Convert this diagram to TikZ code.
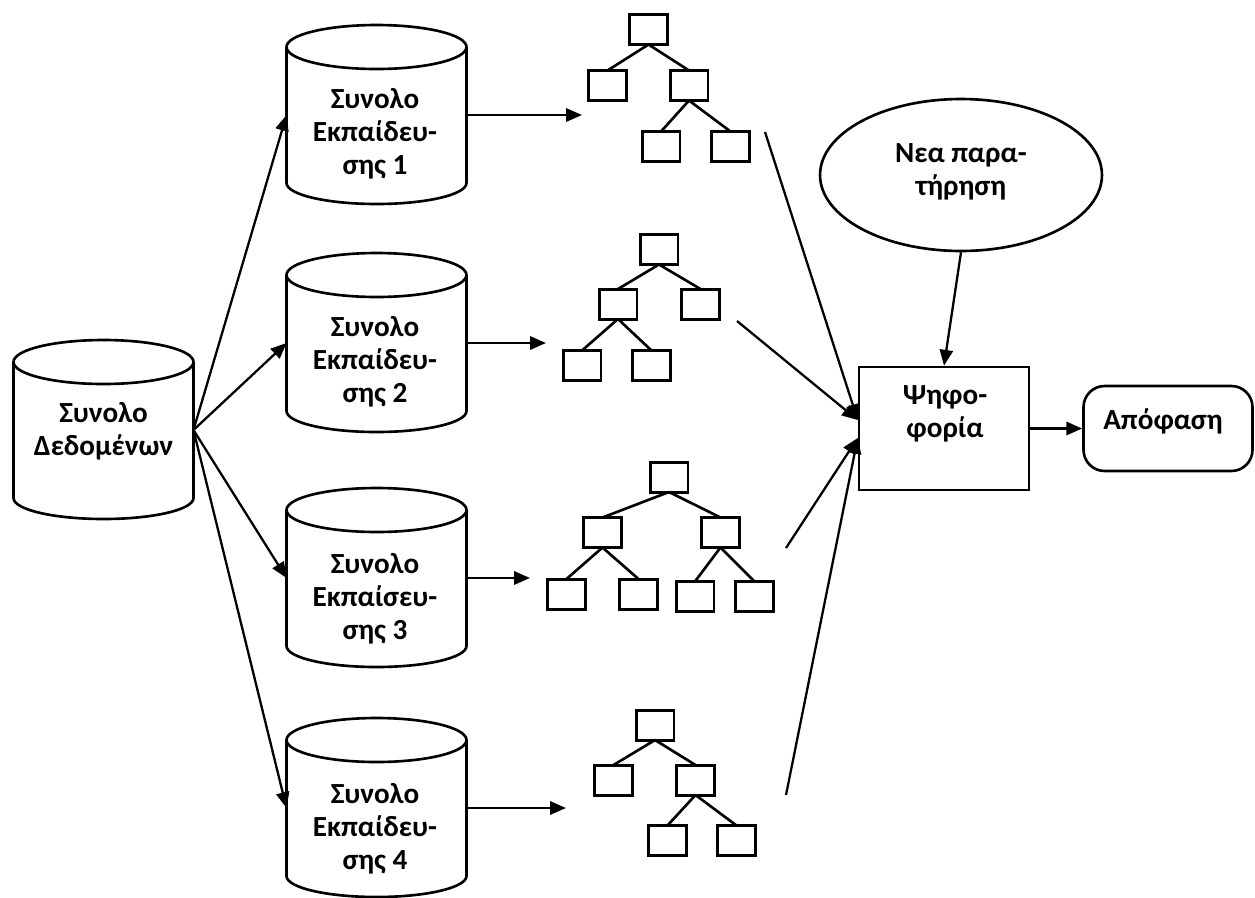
\documentclass[tikz,border=0pt]{standalone}
\usepackage{fontspec}
\setmainfont{Carlito}
\usetikzlibrary{arrows.meta,shapes.geometric}
\tikzset{
  cylline/.style={line width=1.5pt},
  cylbody/.style={minimum width=3.6cm, minimum height=2.72cm, inner sep=0pt, outer sep=0pt},
  lbl/.style={font=\fontsize{16.6}{18.8}\selectfont\bfseries, align=center, inner sep=0pt},
  tbox/.style={draw, line width=1.7pt, minimum width=0.76cm, minimum height=0.6cm, inner sep=0pt, outer sep=0pt},
  tedge/.style={line width=1.5pt},
  arr/.style={line width=1.3pt, -{Triangle[length=9pt,width=7.5pt]}},
}
\newcommand\mycyl[3]{%
  \draw[cylline] (#1-90,-#2-22) -- (#1-90,-#2-158) arc[start angle=180,end angle=360,x radius=90,y radius=21] -- (#1+90,-#2-22);
  \draw[cylline] (#1,-#2-22) ellipse[x radius=90,y radius=22];
  \node[cylbody] (#3) at (#1,-#2-90) {};
}
\begin{document}
\begin{tikzpicture}[x=0.02cm,y=0.02cm]
\useasboundingbox (0,0) rectangle (1255,-897);
% cylinders
\mycyl{103.5}{340}{main}
\mycyl{376.5}{25}{c1}
\mycyl{376.5}{253}{c2}
\mycyl{376.5}{488}{c3}
\mycyl{376.5}{718}{c4}
\node[lbl] (maintxt) at (103.5,-431) {Συνολο\\Δεδομένων};
\node[lbl] (c1txt) at (375,-134) {Συνολο\\Εκπαίδευ-\\σης 1};
\node[lbl] (c2txt) at (375,-362) {Συνολο\\Εκπαίδευ-\\σης 2};
\node[lbl] (c3txt) at (375,-599) {Συνολο\\Εκπαίσευ-\\σης 3};
\node[lbl] (c4txt) at (375,-829) {Συνολο\\Εκπαίδευ-\\σης 4};
% arrows from main
\draw[arr] (main.east) -- (c1.west);
\draw[arr] (main.east) -- (c2.west);
\draw[arr] (main.east) -- (c3.west);
\draw[arr] (main.east) -- (c4.west);
% tree input coordinates
\coordinate (t1in) at (582,-115);
\coordinate (t2in) at (546,-343);
\coordinate (t3in) at (530,-578);
\coordinate (t4in) at (566,-808);
\draw[arr] (c1.east) -- (t1in);
\draw[arr] (c2.east) -- (t2in);
\draw[arr] (c3.east) -- (t3in);
\draw[arr] (c4.east) -- (t4in);
% tree 1
\node[tbox] (a0) at (648.5,-29.5) {};
\node[tbox] (a1) at (607.5,-85.5) {};
\node[tbox] (a2) at (689,-85.5) {};
\node[tbox] (a3) at (661,-146.5) {};
\node[tbox] (a4) at (730.5,-146.5) {};
\draw[tedge] (a0.south) -- (a1.north);
\draw[tedge] (a0.south) -- (a2.north);
\draw[tedge] (a2.south) -- (a3.north);
\draw[tedge] (a2.south) -- (a4.north);
% tree 2
\node[tbox] (b0) at (659,-249.5) {};
\node[tbox] (b1) at (618,-304) {};
\node[tbox] (b2) at (700.5,-304) {};
\node[tbox] (b3) at (582,-365.5) {};
\node[tbox] (b4) at (651.5,-365.5) {};
\draw[tedge] (b0.south) -- (b1.north);
\draw[tedge] (b0.south) -- (b2.north);
\draw[tedge] (b1.south) -- (b3.north);
\draw[tedge] (b1.south) -- (b4.north);
% tree 3
\node[tbox] (d0) at (669,-477) {};
\node[tbox] (d1) at (602.5,-532.5) {};
\node[tbox] (d2) at (720.5,-532.5) {};
\node[tbox] (d3) at (566.5,-594) {};
\node[tbox] (d4) at (638.5,-594) {};
\node[tbox] (d5) at (695,-596.5) {};
\node[tbox] (d6) at (754.5,-596.5) {};
\draw[tedge] (d0.south) -- (d1.north);
\draw[tedge] (d0.south) -- (d2.north);
\draw[tedge] (d1.south) -- (d3.north);
\draw[tedge] (d1.south) -- (d4.north);
\draw[tedge] (d2.south) -- (d5.north);
\draw[tedge] (d2.south) -- (d6.north);
% tree 4
\node[tbox] (e0) at (655,-725) {};
\node[tbox] (e1) at (613.5,-780) {};
\node[tbox] (e2) at (695.5,-780) {};
\node[tbox] (e3) at (667.5,-840.5) {};
\node[tbox] (e4) at (736.5,-840.5) {};
\draw[tedge] (e0.south) -- (e1.north);
\draw[tedge] (e0.south) -- (e2.north);
\draw[tedge] (e2.south) -- (e3.north);
\draw[tedge] (e2.south) -- (e4.north);
% voting
\node[draw, line width=1.5pt, minimum width=3.4cm, minimum height=2.46cm, inner sep=0pt] (vote) at (944,-428.5) {};
\node[lbl] (votetxt) at (945,-413.5) {Ψηφο-\\φορία};
\node[draw, ellipse, line width=1.5pt, minimum width=5.64cm, minimum height=3.04cm, inner sep=0pt] (obs) at (961,-175) {};
\node[lbl] (obstxt) at (961,-171.5) {Νεα παρα-\\τήρηση};
\node[draw, rounded corners=12pt, line width=1.5pt, minimum width=3.38cm, minimum height=1.7cm, inner sep=0pt] (dec) at (1168,-428.5) {};
\node[lbl] (dectxt) at (1163,-421) {Απόφαση};
\draw[arr] (obs.south) -- (vote.north);
\draw[arr] (vote.east) -- (dec.west);
% tree outputs
\coordinate (t1out) at (765,-132);
\coordinate (t2out) at (737,-321);
\coordinate (t3out) at (786,-548);
\coordinate (t4out) at (786,-795);
\draw[arr] (t1out) -- ([yshift=0.17cm]vote.west);
\draw[arr] (t2out) -- ([yshift=0.17cm]vote.west);
\draw[arr] (t3out) -- ([yshift=-0.19cm]vote.west);
\draw[arr] (t4out) -- ([yshift=-0.19cm]vote.west);
\end{tikzpicture}
\end{document}
